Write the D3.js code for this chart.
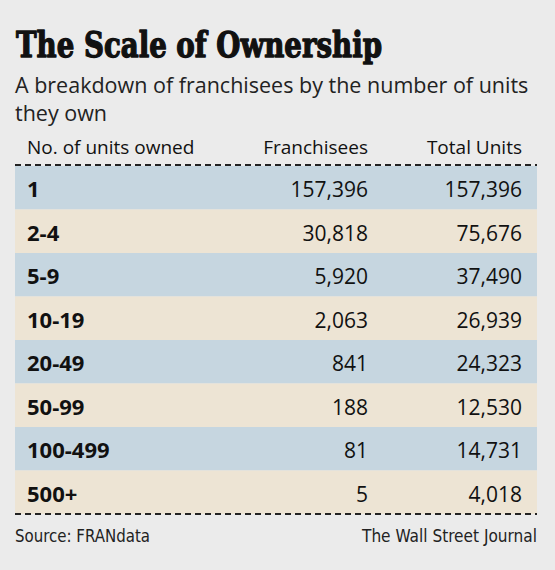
<!DOCTYPE html>
<html>
<head>
<meta charset="utf-8">
<script src="https://cdn.jsdelivr.net/npm/d3@7"></script>
<style>
  html, body { margin: 0; padding: 0; background: #ebebeb; }
  svg { display: block; }
</style>
</head>
<body>
<div id="chart"></div>
<script>
// ---- data ----
const categories = ["1", "2-4", "5-9", "10-19", "20-49", "50-99", "100-499", "500+"];
const franchisees = [157396, 30818, 5920, 2063, 841, 188, 81, 5];
const totalUnits = [157396, 75676, 37490, 26939, 24323, 12530, 14731, 4018];
const columnHeaders = ["No. of units owned", "Franchisees", "Total Units"];
const title = "The Scale of Ownership";
const subtitleLines = ["A breakdown of franchisees by the number of units", "they own"];
const source = "Source: FRANdata";
const credit = "The Wall Street Journal";

// ---- layout ----
const W = 555, H = 570;
const left = 15, right = 537;
const sans = "'Open Sans', 'Noto Sans', sans-serif";
const rowColors = ["#c6d6e0", "#ede4d4"];

const svg = d3.select("#chart").append("svg")
  .attr("width", W).attr("height", H);

svg.append("rect").attr("width", W).attr("height", H).attr("fill", "#ebebeb");

// title
svg.append("text")
  .attr("x", 16).attr("y", 57)
  .attr("font-family", "'DejaVu Serif Condensed', 'DejaVu Serif', serif")
  .attr("font-weight", "bold")
  .attr("font-size", 36)
  .attr("textLength", 366)
  .attr("lengthAdjust", "spacingAndGlyphs")
  .attr("fill", "#111")
  .attr("stroke", "#111")
  .attr("stroke-width", 1.3)
  .attr("stroke-linejoin", "round")
  .text(title);

// subtitle
svg.selectAll("text.sub").data(subtitleLines).join("text")
  .attr("class", "sub")
  .attr("x", 15)
  .attr("y", (d, i) => 93 + i * 28)
  .attr("font-family", sans)
  .attr("font-size", 21.5)
  .attr("fill", "#222")
  .text(d => d);

// column header
const colX = [27, 368, 522];
const colAnchor = ["start", "end", "end"];
svg.selectAll("text.hdr").data(columnHeaders).join("text")
  .attr("class", "hdr")
  .attr("x", (d, i) => colX[i])
  .attr("y", 154)
  .attr("text-anchor", (d, i) => colAnchor[i])
  .attr("font-family", sans)
  .attr("font-size", 19)
  .attr("fill", "#111")
  .text(d => d);

// rows
const y = d3.scaleBand().domain(categories).range([166, 514]).padding(0);
const fmt = d3.format(",");

const rows = svg.selectAll("g.row").data(categories).join("g")
  .attr("class", "row")
  .attr("transform", d => `translate(0,${y(d)})`);

rows.append("rect")
  .attr("x", left).attr("width", right - left)
  .attr("height", y.bandwidth())
  .attr("fill", (d, i) => rowColors[i % 2]);

rows.append("text")
  .attr("x", colX[0]).attr("y", 31)
  .attr("font-family", sans).attr("font-weight", "bold")
  .attr("font-size", 22).attr("fill", "#111")
  .text(d => d);

rows.append("text")
  .attr("x", colX[1]).attr("y", 31)
  .attr("text-anchor", "end")
  .attr("font-family", sans)
  .attr("font-size", 21).attr("fill", "#111")
  .text((d, i) => fmt(franchisees[i]));

rows.append("text")
  .attr("x", colX[2]).attr("y", 31)
  .attr("text-anchor", "end")
  .attr("font-family", sans)
  .attr("font-size", 21).attr("fill", "#111")
  .text((d, i) => fmt(totalUnits[i]));

// dashed rules
[165, 514].forEach(yy => {
  svg.append("line")
    .attr("x1", left).attr("x2", right)
    .attr("y1", yy).attr("y2", yy)
    .attr("stroke", "#222").attr("stroke-width", 2)
    .attr("stroke-dasharray", "6,4");
});

// footer
const cond = "'Liberation Sans Narrow', 'DejaVu Sans Condensed', 'Open Sans', sans-serif";
svg.append("text")
  .attr("x", 15).attr("y", 542)
  .attr("font-family", cond).attr("font-size", 17)
  .attr("fill", "#222")
  .attr("textLength", 135).attr("lengthAdjust", "spacingAndGlyphs")
  .text(source);
svg.append("text")
  .attr("x", 537).attr("y", 542)
  .attr("text-anchor", "end")
  .attr("font-family", cond).attr("font-size", 17)
  .attr("fill", "#222")
  .attr("textLength", 175).attr("lengthAdjust", "spacingAndGlyphs")
  .text(credit);
</script>
</body>
</html>
